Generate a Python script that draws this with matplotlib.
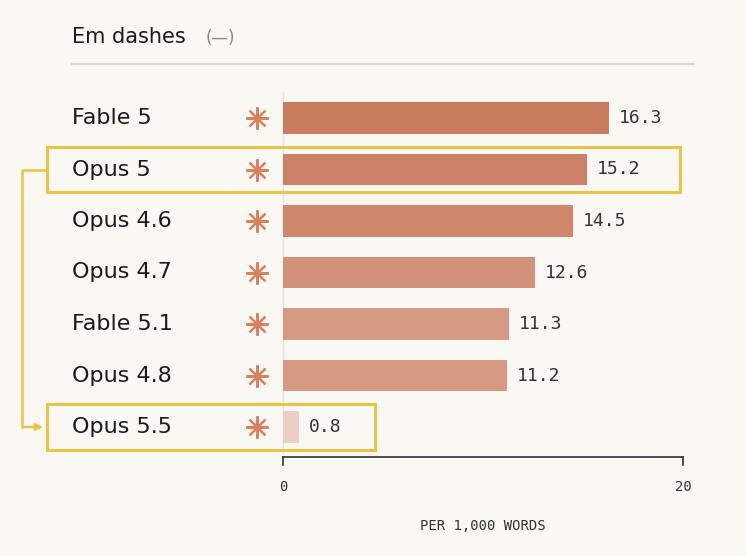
import matplotlib.pyplot as plt
from matplotlib.patches import Rectangle

models = ['Fable 5', 'Opus 5', 'Opus 4.6', 'Opus 4.7', 'Fable 5.1', 'Opus 4.8', 'Opus 5.5']
values = [16.3, 15.2, 14.5, 12.6, 11.3, 11.2, 0.8]
bar_colors = ['#C97B5E', '#CC8166', '#CF876D', '#D29179', '#D69A83', '#D69A83', '#EBCFC4']
highlight = ['Opus 5', 'Opus 5.5']

bg = '#FAF8F3'
yellow = '#E8C547'
star = '#D9805F'

fig = plt.figure(figsize=(7.46, 5.56), dpi=100, facecolor=bg)
ax = fig.add_axes([0, 0, 1, 1])
ax.set_facecolor(bg)
# 20 px per unit, 0 at px 283; rows every 51.5 px, first at px 118
ax.set_xlim(-283 / 20, (746 - 283) / 20)
ax.set_ylim((556 - 118) / 51.5, -118 / 51.5)
ax.axis('off')

rows = list(range(len(models)))
ax.plot([0, 0], [-0.5, 6.5], color='#E6E3DC', lw=1, zorder=0)
ax.barh(rows, values, height=0.62, color=bar_colors, zorder=2)

for i, (m, v) in enumerate(zip(models, values)):
    ax.text(-10.55, i, m, fontsize=16, va='center', ha='left', color='#1A1A1A')
    ax.plot(-1.3, i, marker=(8, 2, 0), markersize=16, mew=1.6, color=star)
    ax.text(v + 0.5, i, f'{v}', fontsize=13, va='center', ha='left',
            family='DejaVu Sans Mono', color='#333333')

# highlight boxes
i1, i2 = models.index(highlight[0]), models.index(highlight[1])
ax.add_patch(Rectangle((-11.8, i1 - 0.44), 31.65, 0.88, fill=False, ec=yellow, lw=2.2, zorder=3))
ax.add_patch(Rectangle((-11.8, i2 - 0.44), 16.4, 0.88, fill=False, ec=yellow, lw=2.2, zorder=3))
ax.plot([-11.8, -13.05, -13.05], [i1, i1, i2], color=yellow, lw=1.8)
ax.annotate('', xy=(-11.85, i2), xytext=(-13.05, i2),
            arrowprops=dict(arrowstyle='-|>', color=yellow, lw=1.8, mutation_scale=10))

# x axis
ya = 6.58
ax.plot([0, 20], [ya, ya], color='#333333', lw=1.2)
for t in [0, 20]:
    ax.plot([t, t], [ya, ya + 0.16], color='#333333', lw=1.2)
    ax.text(t, ya + 0.58, str(t), fontsize=10, ha='center', va='center',
            family='DejaVu Sans Mono', color='#333333')
ax.text(10, ya + 1.34, 'PER 1,000 WORDS', fontsize=10, ha='center', va='center',
        family='DejaVu Sans Mono', color='#333333')

# title
fig.text(72 / 746, 1 - 37 / 556, 'Em dashes', fontsize=15, va='center', ha='left',
         color='#1A1A1A', fontweight='medium')
fig.text(206 / 746, 1 - 38 / 556, '(—)', fontsize=12, va='center', ha='left', color='#888888')
fig.add_artist(plt.Line2D([72 / 746, 694 / 746], [1 - 64 / 556, 1 - 64 / 556],
                          color='#D8D5CE', lw=1.5))

fig.savefig('out.png', dpi=100, facecolor=bg)
